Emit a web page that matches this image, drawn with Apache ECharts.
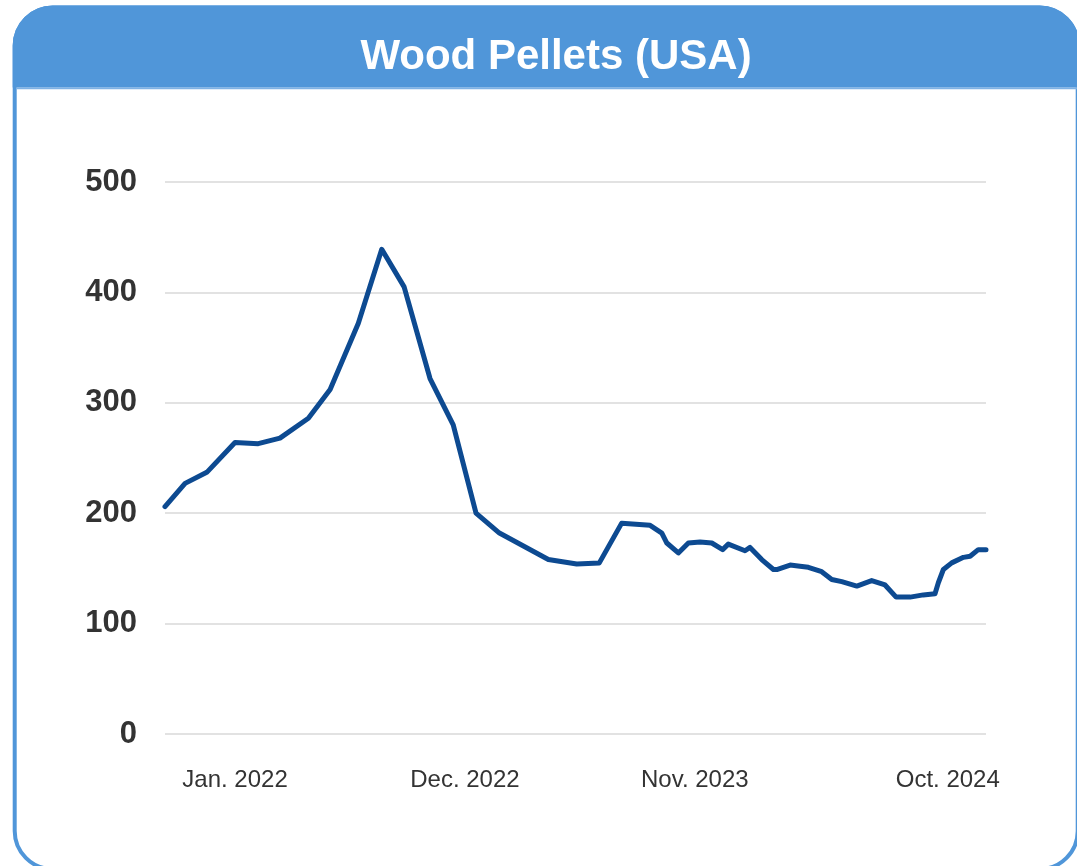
<!DOCTYPE html>
<html>
<head>
<meta charset="utf-8">
<script src="https://cdn.jsdelivr.net/npm/echarts@6/dist/echarts.min.js"></script>
<style>
html,body{margin:0;padding:0;background:#fff;}
#chart{width:1077px;height:866px;}
</style>
</head>
<body>
<div id="chart"></div>
<script>
// x: months since Jan. 2022
const xMonths = [-3.35, -2.39, -1.35, 0, 1.11, 2.15, 3.51, 4.55, 5.90, 7.02, 8.09, 9.33, 10.44, 11.53, 12.65, 14.99, 16.35, 17.43, 18.50, 19.86, 20.42, 20.66, 21.21, 21.69, 22.25, 22.81, 23.33, 23.60, 24.40, 24.64, 25.20, 25.76, 25.92, 26.56, 27.03, 27.43, 28.07, 28.55, 29.03, 29.75, 30.46, 31.10, 31.63, 32.30, 32.93, 33.49, 33.65, 33.89, 34.29, 34.85, 35.17, 35.56, 35.93];
const prices = [206, 227, 237, 264, 263, 268, 286, 312, 372, 439, 405, 322, 280, 200, 182, 158, 154, 155, 191, 189, 182, 173, 164, 173, 174, 173, 167, 172, 166, 169, 158, 149, 149, 153, 152, 151, 147, 140, 138, 134, 139, 135, 124, 124, 126, 127, 137, 149, 155, 160, 161, 167, 167];
const xTickPos = [0, 11, 22, 34.1];
const xTickLabels = ['Jan. 2022', 'Dec. 2022', 'Nov. 2023', 'Oct. 2024'];
const yTicks = [0, 100, 200, 300, 400, 500];
const titleText = 'Wood Pellets (USA)';

const FONT = '"Liberation Sans", Arial, Helvetica, sans-serif';
const chart = echarts.init(document.getElementById('chart'), null, {renderer: 'canvas'});
const seriesData = xMonths.map((x, i) => [x, prices[i]]);

chart.setOption({
  animation: false,
  backgroundColor: '#ffffff',
  graphic: [
    {type: 'rect', z: -10, shape: {x: 14.7, y: 7.5, width: 1063, height: 861.5, r: 38},
     style: {fill: '#ffffff', stroke: '#5096d9', lineWidth: 4}},
    {type: 'rect', z: -9, shape: {x: 12.7, y: 5.5, width: 1067, height: 82, r: [40, 40, 0, 0]},
     style: {fill: '#5096d9'}},
    {type: 'rect', z: -8, shape: {x: 16.7, y: 87.3, width: 1063, height: 2},
     style: {fill: '#7fb2e5'}}
  ],
  title: {
    text: titleText,
    left: 551,
    top: 31,
    textAlign: 'center',
    textStyle: {color: '#ffffff', fontSize: 42, fontWeight: 'bold', fontFamily: FONT}
  },
  grid: {left: 165, right: 91, top: 182, bottom: 132, containLabel: false},
  xAxis: {
    type: 'value',
    min: -3.35,
    max: 35.93,
    splitLine: {show: false},
    axisLine: {show: false},
    axisTick: {show: false},
    axisLabel: {
      customValues: xTickPos,
      margin: 34,
      color: '#333333',
      fontSize: 24,
      fontFamily: FONT,
      formatter: function (v) {
        const i = xTickPos.indexOf(v);
        return i >= 0 ? xTickLabels[i] : '';
      }
    }
  },
  yAxis: {
    type: 'value',
    min: yTicks[0],
    max: yTicks[yTicks.length - 1],
    interval: 100,
    axisLine: {show: false},
    axisTick: {show: false},
    splitLine: {lineStyle: {color: '#e2e2e2', width: 2}},
    axisLabel: {
      margin: 28,
      color: '#333333',
      fontSize: 31,
      fontWeight: 'bold',
      fontFamily: FONT
    }
  },
  series: [{
    type: 'line',
    data: seriesData,
    showSymbol: false,
    smooth: false,
    lineStyle: {color: '#0d4a91', width: 5, cap: 'round', join: 'round'},
    itemStyle: {color: '#0d4a91'}
  }]
});
</script>
</body>
</html>
